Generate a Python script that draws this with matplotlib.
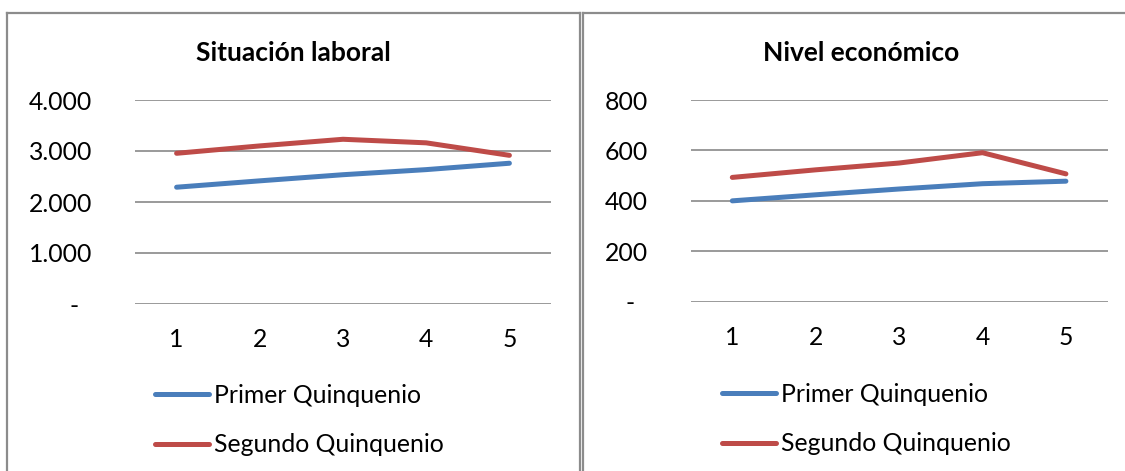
import matplotlib
matplotlib.use("Agg")
import matplotlib.pyplot as plt
from matplotlib.lines import Line2D

plt.rcParams['font.family'] = ['Lato', 'DejaVu Sans']

# Quinquenios 1..5
quinquenios = [1, 2, 3, 4, 5]
serie_labels = ["Primer Quinquenio", "Segundo Quinquenio"]

# Situación laboral
laboral_primer = [2290, 2415, 2535, 2635, 2760]
laboral_segundo = [2955, 3100, 3230, 3160, 2915]
laboral_ticks = [0, 1000, 2000, 3000, 4000]
laboral_ticklabels = ["-", "1.000", "2.000", "3.000", "4.000"]

# Nivel económico
economico_primer = [400, 424, 447, 468, 478]
economico_segundo = [493, 523, 550, 591, 507]
economico_ticks = [0, 200, 400, 600, 800]
economico_ticklabels = ["-", "200", "400", "600", "800"]

BLUE = "#4A7EBB"
RED = "#BE4B48"
GRID = "#898989"
BORDER = "#8C8C8C"

W, H = 1125, 471
fig = plt.figure(figsize=(W / 100, H / 100), dpi=100)


def fx(px):
    return px / W


def fy(py):
    return 1 - py / H


def panel(rect, title, title_x, primer, segundo, ticks, ticklabels, legend_xy):
    ax = fig.add_axes(rect)
    ax.plot(quinquenios, primer, color=BLUE, lw=3.6, solid_capstyle="round",
            solid_joinstyle="round", label=serie_labels[0])
    ax.plot(quinquenios, segundo, color=RED, lw=3.6, solid_capstyle="round",
            solid_joinstyle="round", label=serie_labels[1])
    ax.set_xlim(0.5, 5.5)
    ax.set_ylim(ticks[0], ticks[-1])
    ax.set_xticks(quinquenios)
    ax.set_yticks(ticks)
    # accounting-style zero: dash padded away from the axis
    labels = [t + "  " if t == "-" else t for t in ticklabels]
    ax.set_yticklabels(labels)
    ax.tick_params(axis="both", length=0, labelsize=17.8, colors="black")
    ax.tick_params(axis="y", pad=31)
    ax.tick_params(axis="x", pad=17.5)
    for s in ax.spines.values():
        s.set_visible(False)
    ax.yaxis.grid(True, color=GRID, lw=1.2)
    ax.set_axisbelow(True)
    fig.text(fx(title_x), fy(53), title, ha="center", va="center",
             fontsize=19, fontweight="bold")
    ax.legend(loc="upper left", bbox_to_anchor=(fx(legend_xy[0]), fy(legend_xy[1])),
              bbox_transform=fig.transFigure, frameon=False, fontsize=17.8,
              handlelength=2.19, handletextpad=0.2, labelspacing=1.07,
              borderpad=0, borderaxespad=0)
    return ax


panel([fx(135), fy(304), fx(416), (304 - 100) / H], "Situación laboral", 293,
      laboral_primer, laboral_segundo, laboral_ticks, laboral_ticklabels, (155, 384))
panel([fx(690.6), fy(301.7), fx(417), (301.7 - 100) / H], "Nivel económico", 861,
      economico_primer, economico_segundo, economico_ticks, economico_ticklabels, (721.5, 383))

# chart area borders
border = dict(color=BORDER, lw=1.6, transform=fig.transFigure, clip_on=False)
fig.add_artist(Line2D([fx(7), fx(7)], [fy(13), 0], **border))
fig.add_artist(Line2D([fx(7), fx(580)], [fy(13), fy(13)], **border))
fig.add_artist(Line2D([fx(580), fx(580)], [fy(13), 0], **border))
fig.add_artist(Line2D([fx(583), fx(583)], [fy(13), 0], **border))
fig.add_artist(Line2D([fx(583), 1], [fy(13), fy(13)], **border))

fig.savefig("out.png", dpi=100, facecolor="white")
